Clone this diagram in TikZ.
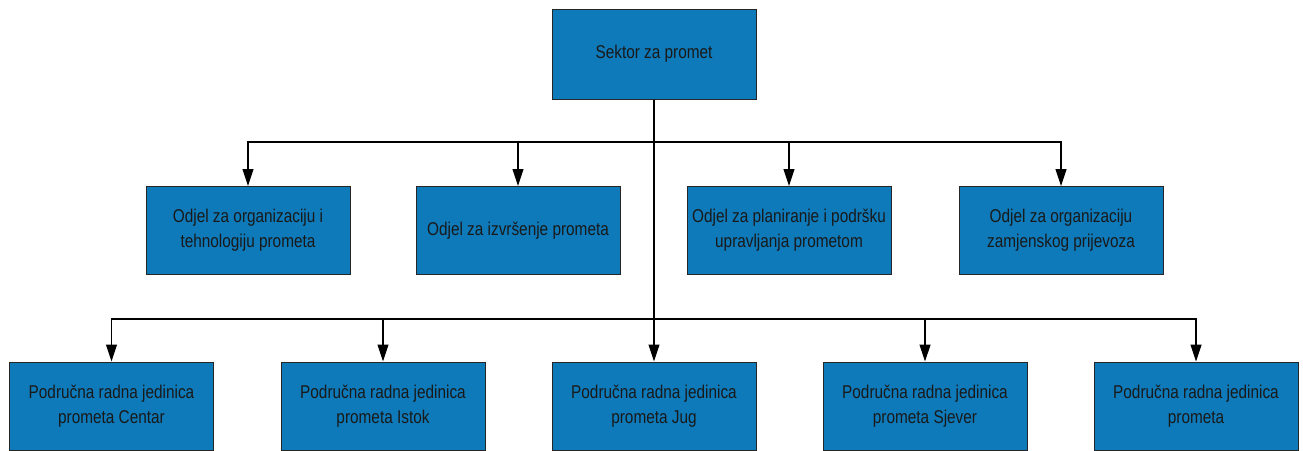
\documentclass[tikz,border=0pt]{standalone}
\usepackage{fontspec}
\setmainfont{Liberation Sans}[FakeStretch=0.83]
\usetikzlibrary{arrows.meta}
\definecolor{boxblue}{RGB}{14,122,186}
\begin{document}
\begin{tikzpicture}[x=1pt,y=-1pt,
  unit/.style={draw=black!85,line width=1pt,fill=boxblue,minimum width=204pt,minimum height=88pt,inner sep=0pt,align=center,font=\fontsize{18.5}{25}\selectfont,text=black!90},
  conn/.style={draw=black,line width=1.1pt},
  arr/.style={conn,-{Triangle[length=17pt,width=11pt]}}]
\useasboundingbox (0,0) rectangle (1303,450);
\clip (0,0) rectangle (1303,450);
\fill[white] (0,0) rectangle (1303,450);
\node[unit,minimum height=90pt] (top) at (654,54) {Sektor za promet};
\node[unit] (d1) at (248,230.5) {Odjel za organizaciju i\\tehnologiju prometa};
\node[unit] (d2) at (518,230.5) {Odjel za izvršenje prometa};
\node[unit] (d3) at (789,230.5) {Odjel za planiranje i podršku\\upravljanja prometom};
\node[unit] (d4) at (1061,230.5) {Odjel za organizaciju\\zamjenskog prijevoza};
\node[unit] (p1) at (111.5,406) {Područna radna jedinica\\prometa Centar};
\node[unit] (p2) at (383,406) {Područna radna jedinica\\prometa Istok};
\node[unit] (p3) at (654,406) {Područna radna jedinica\\prometa Jug};
\node[unit] (p4) at (925,406) {Područna radna jedinica\\prometa Sjever};
\node[unit] (p5) at (1196,406) {Područna radna jedinica\\prometa};
\coordinate (j1) at (654,142);
\coordinate (j2) at (654,319);
\draw[conn] (top.south) -- (j1);
\draw[arr] (j1) -| (d1.north);
\draw[arr] (j1) -| (d2.north);
\draw[arr] (j1) -| (d3.north);
\draw[arr] (j1) -| (d4.north);
\draw[arr] (top.south) -- (p3.north);
\draw[arr] (j2) -| (p1.north);
\draw[arr] (j2) -| (p2.north);
\draw[arr] (j2) -| (p4.north);
\draw[arr] (j2) -| (p5.north);
\end{tikzpicture}
\end{document}
